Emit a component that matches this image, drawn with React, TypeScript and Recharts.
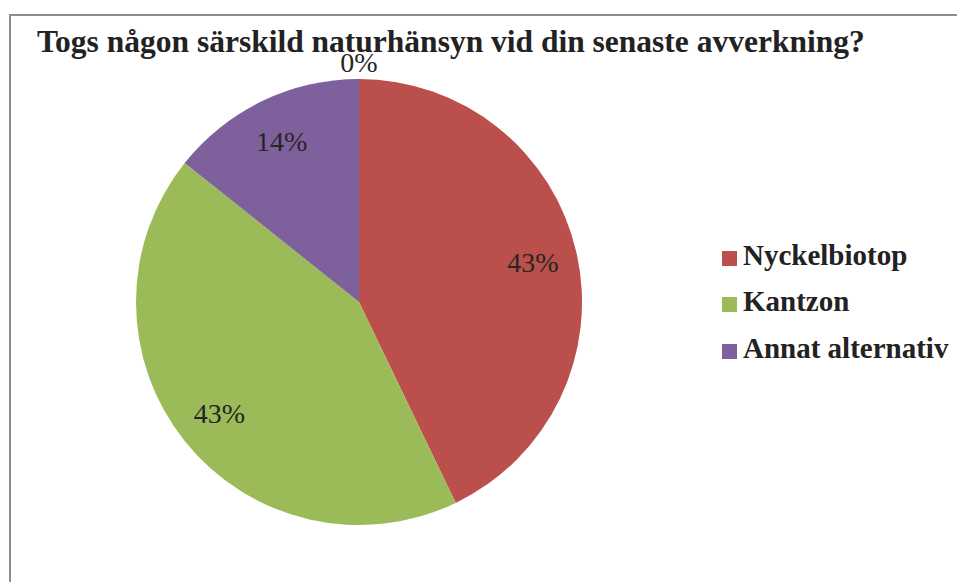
import { PieChart, Pie, Cell } from 'recharts';

const TITLE = 'Togs någon särskild naturhänsyn vid din senaste avverkning?';
const CATEGORIES = ['Nyckelbiotop', 'Kantzon', 'Annat alternativ', ''];
const ANSWERS = [3, 3, 1, 0];
const COLORS = ['#BB4F4C', '#9BBB59', '#7D609C', '#4BACC6'];

const data = CATEGORIES.map((name, i) => ({ name, value: ANSWERS[i] }));
const total = ANSWERS.reduce((a, b) => a + b, 0);

const FONT = '"Liberation Serif", "DejaVu Serif", serif';
const RAD = Math.PI / 180;

function renderLabel(props: any) {
  const { cx, cy, midAngle, outerRadius, value } = props;
  // empty slices get their label pushed outside the pie, like Excel does
  const r = value === 0 ? outerRadius + 17 : outerRadius * 0.8;
  const x = cx + r * Math.cos(-midAngle * RAD);
  const y = cy + r * Math.sin(-midAngle * RAD);
  return (
    <text
      x={x}
      y={y}
      textAnchor="middle"
      dominantBaseline="central"
      fill="#262626"
      fontFamily={FONT}
      fontSize={28}
    >
      {Math.round((value / total) * 100)}%
    </text>
  );
}

// legend built from the category list; the empty 0-slice has no entry
function LegendList() {
  return (
    <div style={{ position: 'absolute', left: 722, top: 232, fontFamily: FONT }}>
      {CATEGORIES.map((name, i) =>
        name ? (
          <div
            key={name}
            style={{ display: 'flex', alignItems: 'center', height: 46.5 }}
          >
            <span
              style={{
                width: 15,
                height: 15,
                background: COLORS[i],
                marginRight: 6,
                marginTop: 6,
              }}
            />
            <span style={{ fontSize: 29, fontWeight: 'bold', color: '#222' }}>
              {name}
            </span>
          </div>
        ) : null
      )}
    </div>
  );
}

export default function App() {
  return (
    <div
      style={{
        position: 'absolute',
        left: 0,
        top: 0,
        width: 957,
        height: 582,
        overflow: 'hidden',
        background: '#fff',
      }}
    >
      <div
        style={{
          position: 'absolute',
          left: 9,
          top: 14,
          width: 1000,
          height: 700,
          borderLeft: '2px solid #8c8c8c',
          borderTop: '2px solid #8c8c8c',
        }}
      />
      <svg
        width={957}
        height={80}
        style={{ position: 'absolute', left: 0, top: 0 }}
      >
        <text
          x={37}
          y={52}
          fontFamily={FONT}
          fontWeight="bold"
          fontSize={31.5}
          fill="#222"
        >
          {TITLE}
        </text>
      </svg>
      <div style={{ position: 'absolute', left: 0, top: 0 }}>
        <PieChart
          width={957}
          height={582}
          margin={{ top: 0, right: 0, bottom: 0, left: 0 }}
        >
          <Pie
            data={data}
            dataKey="value"
            nameKey="name"
            cx={359}
            cy={302}
            outerRadius={223}
            startAngle={90}
            endAngle={-270}
            stroke="none"
            label={renderLabel}
            labelLine={false}
            isAnimationActive={false}
          >
            {data.map((_, i) => (
              <Cell key={i} fill={COLORS[i]} />
            ))}
          </Pie>
        </PieChart>
      </div>
      <LegendList />
    </div>
  );
}
